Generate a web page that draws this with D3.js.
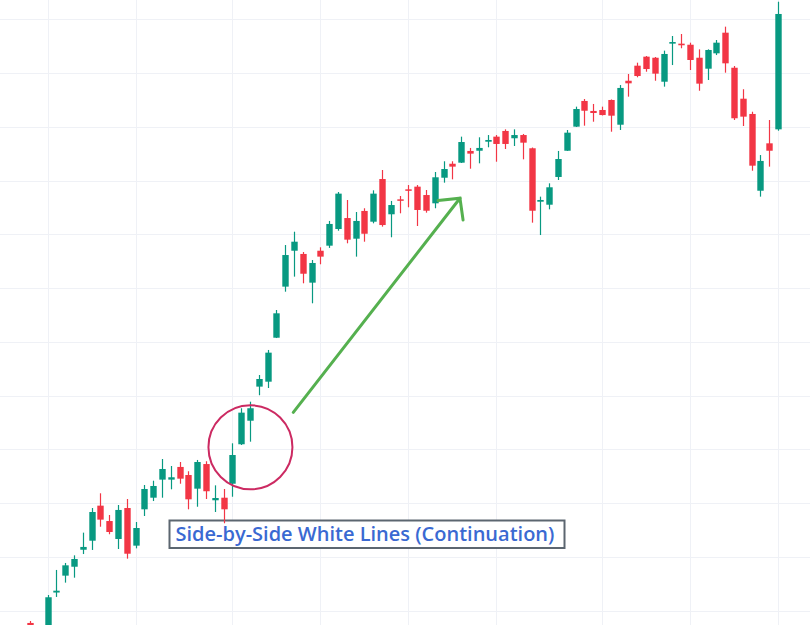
<!DOCTYPE html>
<html>
<head>
<meta charset="utf-8">
<script src="https://cdn.jsdelivr.net/npm/d3@7/dist/d3.min.js"></script>
<style>
  html, body { margin: 0; padding: 0; background: #ffffff; overflow: hidden; }
  svg { display: block; }
</style>
</head>
<body>
<svg id="chart" width="810" height="625"></svg>
<script>
// ---- data (OHLC per session) ----
const opens  = [98.86,98.39,97.28,101.69,103.26,104.09,105.67,106.51,109.77,108.34,106.67,109.55,106.05,109.43,110.51,112.19,112.19,113.37,112.62,111.35,113.64,110.27,110.51,111.81,115.48,117.67,120.84,121.30,125.39,130.14,133.48,133.18,130.51,133.48,133.95,135.50,136.52,134.60,137.18,136.18,140.15,136.87,138.26,139.19,139.44,138.66,137.89,140.27,141.57,141.67,142.76,142.78,143.62,144.09,144.62,143.94,144.24,143.01,138.04,137.76,140.34,142.78,145.02,147.41,146.48,146.57,147.50,145.20,149.29,150.69,151.53,151.43,149.20,152.74,152.74,152.64,151.43,150.41,151.84,153.76,150.50,147.62,146.20,139.06,143.47,144.77];
const highs  = [99.04,98.58,101.46,103.79,104.44,105.15,107.26,109.55,110.92,108.90,109.83,110.39,108.25,111.69,112.09,114.11,113.46,113.83,112.97,114.02,113.90,111.66,111.32,115.57,118.83,119.44,121.92,124.25,127.97,134.01,135.25,133.36,132.62,133.80,136.25,138.94,138.20,137.08,137.43,139.10,140.99,138.11,138.57,139.59,139.59,139.13,140.80,141.80,141.80,144.09,143.04,144.03,144.24,144.24,144.77,144.77,144.34,143.08,138.51,139.75,142.76,144.71,146.88,147.59,147.13,146.88,147.55,148.89,149.92,150.97,151.59,151.50,152.09,153.45,153.64,152.83,152.21,152.21,153.08,154.32,150.66,148.50,146.41,142.38,145.64,156.64];
const lows   = [98.21,96.81,96.81,101.28,102.61,103.07,105.27,105.65,107.81,107.11,105.74,104.84,105.80,108.81,110.20,110.51,111.29,111.81,109.43,109.67,110.39,109.18,108.13,110.60,115.41,115.72,120.04,120.71,125.36,129.67,131.07,130.45,128.59,132.22,133.74,135.34,134.17,132.93,134.32,136.03,135.72,134.73,136.96,137.52,135.78,137.02,137.43,139.81,140.12,141.64,141.11,141.61,143.10,141.76,142.94,143.22,141.98,136.09,134.94,137.33,140.06,142.76,144.99,145.11,145.48,146.06,144.55,144.71,147.81,149.61,150.13,149.29,148.74,150.75,152.31,150.29,148.36,149.36,151.68,150.04,145.64,145.08,140.92,138.51,141.30,144.64];
const closes = [98.49,97.28,101.25,101.86,104.22,104.81,105.93,109.18,108.47,107.32,109.37,105.30,107.69,111.32,111.60,113.18,112.41,112.28,110.36,113.83,111.11,110.48,109.43,114.48,118.42,118.83,121.55,124.00,127.66,133.08,134.32,131.34,132.34,132.93,135.97,138.79,134.51,136.25,135.06,138.79,135.87,137.73,138.13,139.06,137.27,137.20,140.31,141.08,141.30,143.59,142.51,143.04,143.78,143.41,143.41,144.24,143.53,137.20,138.20,139.38,142.01,144.46,146.66,146.50,146.29,146.10,146.04,148.62,149.05,149.73,150.38,149.95,151.78,152.89,152.59,151.22,149.02,152.15,152.83,150.91,145.80,145.95,141.39,141.83,142.78,155.50];

// gridline positions
const priceTicks = [100,105,110,115,120,125,130,135,140,145,150,155];
const timeTicks  = [2,12,23,33,43,53,65,75,85];

// annotation
const labelText = "Side-by-Side White Lines (Continuation)";
const circleCenter = { i: 25.05, p: 115.2 };
const arrowFrom = { i: 29.92, p: 118.45 };
const arrowTo   = { i: 48.86, p: 138.36 };

const candles = opens.map((o, i) => ({ i, o, h: highs[i], l: lows[i], c: closes[i] }));

const W = 810, H = 625;
const svg = d3.select("#chart");

const x = d3.scaleLinear().domain([0, 85]).range([30, 778]);
const y = d3.scaleLinear().domain([100, 155]).range([610.7, 19.35]);

const UP = "#089981", DOWN = "#f23645", GRID = "#eff1f6";

// grid
const grid = svg.append("g");
grid.selectAll("line.h").data(priceTicks).enter().append("line")
  .attr("x1", 0).attr("x2", W)
  .attr("y1", d => Math.round(y(d)) + 0.5).attr("y2", d => Math.round(y(d)) + 0.5)
  .attr("stroke", GRID).attr("stroke-width", 1);
grid.selectAll("line.v").data(timeTicks).enter().append("line")
  .attr("y1", 0).attr("y2", H)
  .attr("x1", d => Math.round(x(d)) + 0.5).attr("x2", d => Math.round(x(d)) + 0.5)
  .attr("stroke", GRID).attr("stroke-width", 1);

// label box (behind candles)
const lbl = svg.append("g");
const bx = 169.5, by = 520.5, bh = 27.5;
const txt = lbl.append("text")
  .attr("x", bx + 6).attr("y", 541)
  .attr("font-family", "'Open Sans', sans-serif")
  .attr("font-weight", 600)
  .attr("font-size", 20)
  .attr("fill", "#3a69d2")
  .text(labelText);
const tw = txt.node().getComputedTextLength();
lbl.insert("rect", "text")
  .attr("x", bx).attr("y", by)
  .attr("width", Math.max(tw + 14, 395)).attr("height", bh)
  .attr("fill", "#ffffff")
  .attr("stroke", "#5c6670").attr("stroke-width", 2);

// candles
const bw = 6.4;
const cg = svg.append("g");
const g = cg.selectAll("g.c").data(candles).enter().append("g");
g.append("line")
  .attr("x1", d => Math.round(x(d.i)) + 0.5).attr("x2", d => Math.round(x(d.i)) + 0.5)
  .attr("y1", d => y(d.h)).attr("y2", d => y(d.l))
  .attr("stroke", d => d.c >= d.o ? UP : DOWN).attr("stroke-width", 1.2);
g.append("rect")
  .attr("x", d => Math.round(x(d.i)) + 0.5 - bw / 2)
  .attr("width", bw)
  .attr("y", d => y(Math.max(d.o, d.c)))
  .attr("height", d => Math.max(1.5, Math.abs(y(d.o) - y(d.c))))
  .attr("fill", d => d.c >= d.o ? UP : DOWN);

// circle annotation
svg.append("circle")
  .attr("cx", x(circleCenter.i)).attr("cy", y(circleCenter.p))
  .attr("r", 42)
  .attr("fill", "none")
  .attr("stroke", "#cc2a62").attr("stroke-width", 2);

// arrow annotation
const ax1 = x(arrowFrom.i), ay1 = y(arrowFrom.p), ax2 = x(arrowTo.i), ay2 = y(arrowTo.p);
const ang = Math.atan2(ay1 - ay2, ax1 - ax2);
const hl = 22, spread = 46 * Math.PI / 180;
const armA = [ax2 + hl * Math.cos(ang + spread), ay2 + hl * Math.sin(ang + spread)];
const armB = [ax2 + hl * Math.cos(ang - spread), ay2 + hl * Math.sin(ang - spread)];
const ARROW = "#55b04f";
svg.append("line")
  .attr("x1", ax1).attr("y1", ay1).attr("x2", ax2).attr("y2", ay2)
  .attr("stroke", ARROW).attr("stroke-width", 3).attr("stroke-linecap", "round");
svg.append("path")
  .attr("d", `M${armA[0]},${armA[1]}L${ax2},${ay2}L${armB[0]},${armB[1]}`)
  .attr("fill", "none")
  .attr("stroke", ARROW).attr("stroke-width", 3)
  .attr("stroke-linecap", "round").attr("stroke-linejoin", "miter");
</script>
</body>
</html>
